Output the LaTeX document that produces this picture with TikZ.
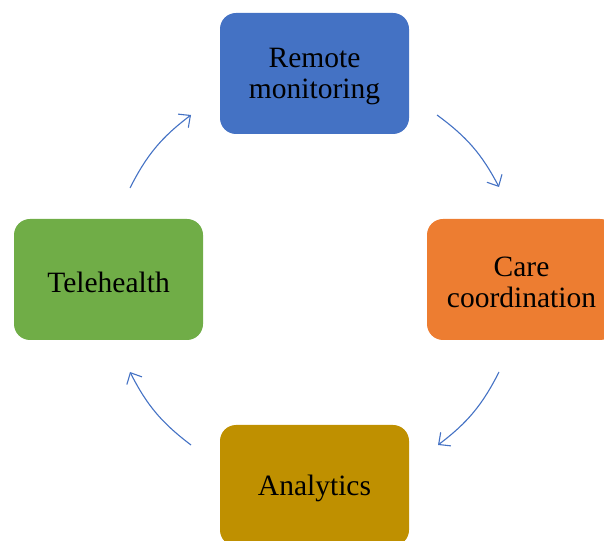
\documentclass[tikz,border=0pt]{standalone}
\usepackage{fontspec}
\setmainfont{Liberation Serif}
\usetikzlibrary{arrows.meta}
\definecolor{cblue}{HTML}{4472C4}
\definecolor{corange}{HTML}{ED7D31}
\definecolor{cgold}{HTML}{BF9000}
\definecolor{cgreen}{HTML}{70AD47}
\begin{document}
\begin{tikzpicture}[x=1pt,y=1pt,
  stagebox/.style={rounded corners=16pt, minimum width=189pt, minimum height=121pt,
    inner sep=0pt, align=center, font=\fontsize{29.5}{31}\selectfont, text=black},
  stagetext/.style={inner sep=0pt, align=center, font=\fontsize{29.5}{31}\selectfont, text=black},
  cyc/.style={draw=cblue, line width=1.1pt,
    -{Straight Barb[length=9pt,width=17pt,line width=1.1pt]}}]
\useasboundingbox (0,0) rectangle (604,540);
\clip (0,0) rectangle (604,540);
% the four stages of the cycle
\node[stagebox, fill=cblue]   (remote) at (314.5,466.5) {};
\node[stagebox, fill=corange] (care)   at (521.5,260.5) {};
\node[stagebox, fill=cgold]   (anal)   at (314.5,54.5)  {};
\node[stagebox, fill=cgreen]  (tele)   at (108.5,260.5) {};
% their labels, set a little below the box centres
\node[stagetext] (remotetxt) at ([yshift=-3pt]remote.center) {Remote\\monitoring};
\node[stagetext] (caretxt)   at ([yshift=-3pt]care.center)   {Care\\coordination};
\node[stagetext] (analtxt)   at ([yshift=-3pt]anal.center)   {Analytics};
\node[stagetext] (teletxt)   at ([yshift=-3pt]tele.center)   {Telehealth};
% arrow end points on the circle around the cycle
\coordinate (t1) at (130,352);
\coordinate (r0) at (191,425);
\coordinate (r1) at (437,425);
\coordinate (c0) at (499,353);
\coordinate (c1) at (499,168);
\coordinate (a0) at (438,95);
\coordinate (a1) at (191,95);
\coordinate (t0) at (130,168);
\draw[cyc] (t1) to[bend left=13] (r0);
\draw[cyc] (r1) to[bend left=13] (c0);
\draw[cyc] (c1) to[bend left=13] (a0);
\draw[cyc] (a1) to[bend left=13] (t0);
\end{tikzpicture}
\end{document}
